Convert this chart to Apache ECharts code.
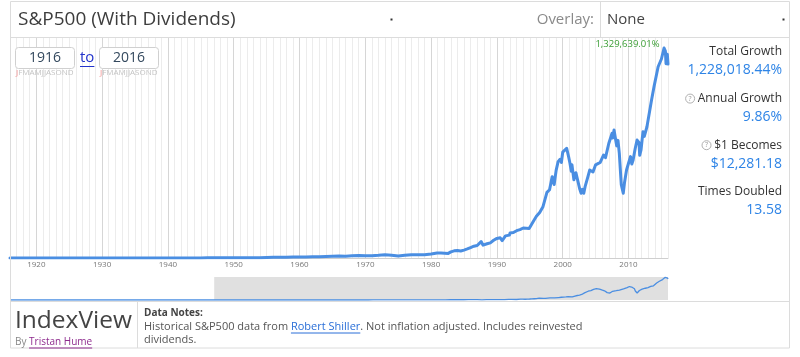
<!DOCTYPE html>
<html><head><meta charset="utf-8">
<script src="https://cdn.jsdelivr.net/npm/echarts@6/dist/echarts.min.js"></script>
<style>html,body{margin:0;padding:0;background:#fff}#c{width:800px;height:357px}</style>
</head><body><div id="c"></div><script>
// ---------- data ----------
const titleText = 'S&P500 (With Dividends)';
const overlayLabel = 'Overlay:';
const overlayValue = 'None';
const fromYear = '1916';
const toYear = '2016';
const monthLetters = 'JFMAMJJASOND';
const tickLabels = ['1920','1930','1940','1950','1960','1970','1980','1990','2000','2010'];
const statLabels = ['Total Growth', 'Annual Growth', '$1 Becomes', 'Times Doubled'];
const statHelp = [false, true, true, false];
const statValues = ['1,228,018.44%', '9.86%', '$12,281.18', '13.58'];
const brandName = 'IndexView';
const authorName = 'Tristan Hume';
const notesTitle = 'Data Notes:';
const notesPre = 'Historical S&P500 data from ';
const notesLink = 'Robert Shiller';
const notesPost = '. Not inflation adjusted. Includes reinvested';
const notesLine2 = 'dividends.';

// growth of $1 (navigator history before the selected range)
const preYears = [1871, 1880, 1890, 1900, 1906, 1910, 1914];
const preValues = [0.05, 0.07, 0.1, 0.2, 0.32, 0.4, 0.45];

// growth of $1 from 1916 to 2016
const years = [
1916,1917,1918,1919,1920,1921,1922,1923,1924,1925,
1926,1927,1928,1929,1929.7,1930,1931,1932,1932.5,1933,
1934,1935,1936,1937,1938,1939,1940,1941,1942,1943,
1944,1945,1946,1947,1948,1949,1950,1951,1952,1953,
1954,1955,1956,1957,1958,1959,1960,1961,1962,1963,
1964,1965,1966,1967,1968,1969,1970,1971,1972,1973,
1974,1975,1976,1977,1978,1979,1980,1980.9,1981.5,1982.6,
1983.0,1983.5,1984.0,1984.5,1985.0,1985.5,1986.0,1986.5,1987.0,1987.6,
1987.9,1988.5,1989.0,1989.5,1990.0,1990.5,1990.8,1991.0,1991.3,1991.9,
1992.0,1992.5,1993.0,1993.5,1994.0,1994.3,1994.9,1995.5,1996.0,1996.5,
1997.0,1997.3,1997.6,1997.9,1998.0,1998.4,1998.7,1999.0,1999.3,1999.6,
1999.8,2000.0,2000.2,2000.6,2000.9,2001.1,2001.3,2001.4,2001.7,2002.0,
2002.3,2002.6,2002.8,2003.0,2003.2,2003.4,2003.8,2004.1,2004.6,2005.0,
2005.3,2005.7,2006.2,2006.5,2007.0,2007.2,2007.5,2007.6,2007.8,2008.0,
2008.2,2008.4,2008.6,2008.8,2008.9,2009.0,2009.2,2009.4,2009.7,2010.0,
2010.3,2010.5,2010.7,2011.0,2011.3,2011.6,2011.7,2011.9,2012.2,2012.4,
2012.8,2013.0,2013.5,2013.9,2014.1,2014.5,2014.8,2015.0,2015.4,2015.6,
2015.7,2015.9,2016.0];
const values = [
1.00,1.02,0.80,0.95,1.05,0.90,1.15,1.40,1.45,1.90,
2.35,2.60,3.60,5.10,6.40,4.70,3.50,2.00,1.20,1.80,
2.80,2.80,4.10,5.50,3.60,4.70,4.70,4.20,3.70,4.50,
5.70,6.80,9.30,8.50,9.00,9.50,11.3,14.9,18.5,21.9,
21.7,33.1,43.5,46.4,41.4,59.4,66.5,67,85,77,
95,111,125,112,139,154,141,147,168,200,
170,125,172,213,198,211,255,320,315,290,
385,455,468,440,500,575,660,745,790,1040,
810,900,960,1120,1240,1280,1100,1220,1400,1450,
1590,1610,1730,1800,1900,1790,1870,2300,2640,2880,
3250,3350,4160,4150,4320,5150,4650,5550,6100,6250,
6050,6700,6650,6950,6400,6000,5500,5900,4950,5400,
5300,4350,4100,4350,4100,4520,5100,5570,5450,5900,
5800,6050,6520,6350,7250,7300,7900,7600,8100,7600,
7100,7450,6630,5300,4650,4700,4100,4800,5570,6000,
6420,5950,6200,6900,7470,7300,6500,6840,8000,7700,
8310,8400,10000,10900,11000,12110,12000,12600,13297.3901,13100,
12300,12900,12281.1844];

// ---------- helpers ----------
const F = "'Open Sans', sans-serif";
const ctx2d = document.createElement('canvas').getContext('2d');
function tw(t, font) { ctx2d.font = font; return ctx2d.measureText(t).width; }
function pct(v) {
  return ((v - 1) * 100).toLocaleString('en-US', {minimumFractionDigits: 2, maximumFractionDigits: 2}) + '%';
}

const mainData = years.map((y, i) => [y, values[i]]);
const navData = preYears.map((y, i) => [y, preValues[i]]).concat(mainData);

const minor = '#ececec', major = '#d6d6d6';
const gridColors = [minor, minor, minor, minor, major, minor, minor, minor, minor, minor];

const blue = '#4a8ee2';
const statBlue = '#2e84e6';
const linkBlue = '#2a6fd8';

// ---------- graphics (page furniture) ----------
const G = [];
const line = (x1, y1, x2, y2, c, z) => G.push({type: 'line', silent: true, z: z || 60, shape: {x1, y1, x2, y2}, style: {stroke: c || '#dcdcdc', lineWidth: 1}});
const text = (x, y, t, font, fill, align, extra, z) => G.push({type: 'text', silent: true, z: z || 70, x, y,
  style: Object.assign({text: t, font, fill, align: align || 'left', verticalAlign: 'middle'}, extra || {})});

// outer frame + header
G.push({type: 'rect', silent: true, z: 60, shape: {x: 10.5, y: 1.5, width: 779, height: 346.5}, style: {fill: 'none', stroke: '#dcdcdc', lineWidth: 1}});
line(10, 37.5, 790, 37.5);
line(600.5, 1.5, 600.5, 37.5);
text(18, 20, titleText, `19px ${F}`, '#3d3d3d');
G.push({type: 'rect', silent: true, z: 70, shape: {x: 390.5, y: 18.5, width: 2, height: 2}, style: {fill: '#333'}});
text(594, 20, overlayLabel, `15px ${F}`, '#8a8a8a', 'right');
text(607, 20, overlayValue, `15px ${F}`, '#444');
G.push({type: 'rect', silent: true, z: 70, shape: {x: 782.5, y: 18.5, width: 2, height: 2}, style: {fill: '#333'}});

// date inputs
G.push({type: 'rect', silent: true, z: 70, shape: {x: 15.5, y: 47.5, width: 59, height: 21, r: 3}, style: {fill: '#fff', stroke: '#d0d0d0'}});
G.push({type: 'rect', silent: true, z: 70, shape: {x: 99.5, y: 47.5, width: 59, height: 21, r: 3}, style: {fill: '#fff', stroke: '#d0d0d0'}});
text(45, 58, fromYear, `14px ${F}`, '#34495e', 'center', null, 71);
text(129, 58, toYear, `14px ${F}`, '#34495e', 'center', null, 71);
text(80, 57.5, 'to', `15px ${F}`, '#2233cc', 'left', null, 71);
const toW = tw('to', `15px ${F}`);
line(80, 66.5, 80 + toW, 66.5, '#2233cc', 71);
const mFont = `8px ${F}`;
const monthRich = {r: {fill: '#f28b8b', font: mFont}, g: {fill: '#c4c4c4', font: mFont}};
const monthText = `{r|${monthLetters[0]}}{g|${monthLetters.slice(1)}}`;
text(16, 73, monthText, mFont, '#c4c4c4', 'left', {rich: monthRich}, 71);
text(100, 73, monthText, mFont, '#c4c4c4', 'left', {rich: monthRich}, 71);

// statistics panel
const sFont = `12px ${F}`;
const helpRich = {
  q: {fill: '#9a9a9a', font: `7px ${F}`, borderColor: '#b0b0b0', borderWidth: 1, borderRadius: 5, width: 9, height: 9, lineHeight: 9, align: 'center'},
  s: {fill: '#333', font: sFont}
};
statLabels.forEach((lab, i) => {
  const yl = 52 + i * 46.6;
  if (statHelp[i]) {
    text(782, yl, `{q|?}{s| ${lab}}`, sFont, '#333', 'right', {rich: helpRich});
  } else {
    text(782, yl, lab, sFont, '#333', 'right');
  }
  text(782, yl + 18.5, statValues[i], `14px ${F}`, statBlue, 'right');
});

// footer
line(10, 301.5, 790, 301.5);
line(137.5, 301.5, 137.5, 348);
text(15, 321.5, brandName, `24.5px ${F}`, '#444');
const byFont = `10px ${F}`;
text(15, 342.5, `{a|By }{b|${authorName}}`, byFont, '#888', 'left', {rich: {a: {fill: '#888', font: byFont}, b: {fill: '#8e2b8e', font: byFont}}});
const byW = tw('By ', byFont), authW = tw(authorName, byFont);
line(15 + byW, 348, 15 + byW + authW, 348, '#8e2b8e', 71);
text(144, 313.5, notesTitle, `bold 10px ${F}`, '#444');
const nFont = `11px ${F}`;
text(144, 326.5, `{a|${notesPre}}{l|${notesLink}}{a|${notesPost}}`, nFont, '#555', 'left',
  {rich: {a: {fill: '#555', font: nFont}, l: {fill: linkBlue, font: nFont}}});
const preW = tw(notesPre, nFont), linkW = tw(notesLink, nFont);
line(144 + preW, 333, 144 + preW + linkW, 333, linkBlue, 71);
text(144, 339.5, notesLine2, nFont, '#555');

// ---------- chart ----------
const chart = echarts.init(document.getElementById('c'), null, {renderer: 'canvas'});
chart.setOption({
  animation: false,
  backgroundColor: '#fff',
  textStyle: {fontFamily: F},
  grid: [
    {left: 10, right: 132, top: 38, bottom: 99, containLabel: false},
    {left: 10, right: 132, top: 277, height: 23, containLabel: false}
  ],
  xAxis: [
    {type: 'value', gridIndex: 0, min: 1916, max: 2016, interval: 1,
     axisLine: {show: true, lineStyle: {color: '#cfcfcf', width: 1}},
     axisTick: {show: false},
     axisLabel: {show: true, margin: 3, fontSize: 8, color: '#777', fontFamily: F, hideOverlap: false,
       formatter: v => (tickLabels.indexOf(String(Math.round(v))) >= 0 ? String(Math.round(v)) : '')},
     splitLine: {show: true, lineStyle: {color: gridColors, width: 1}}},
    {type: 'value', gridIndex: 1, min: 1871, max: 2016, show: false}
  ],
  yAxis: [
    {type: 'value', gridIndex: 0, min: 0, max: 13930, show: false},
    {type: 'value', gridIndex: 1, min: 0, max: 13500, show: false}
  ],
  series: [
    {type: 'line', xAxisIndex: 0, yAxisIndex: 0, data: mainData, showSymbol: false, symbol: 'none',
     lineStyle: {color: blue, width: 3, cap: 'round', join: 'round'}, z: 5,
     markPoint: {symbol: 'circle', symbolSize: 1, itemStyle: {color: 'rgba(0,0,0,0)'}, silent: true,
       data: [{type: 'max', name: 'peak'}],
       label: {show: true, position: 'left', distance: 4, offset: [0, -4], fontSize: 9.5, color: '#3a9d34', fontFamily: F,
         formatter: p => pct(p.value)}}},
    {type: 'line', xAxisIndex: 1, yAxisIndex: 1, data: navData, showSymbol: false, symbol: 'none',
     lineStyle: {color: blue, width: 1.3}, z: 5,
     markArea: {silent: true, itemStyle: {color: '#e0e0e0'}, data: [[{xAxis: 1916}, {xAxis: 2016}]]}}
  ],
  graphic: {elements: G}
});
</script></body></html>
